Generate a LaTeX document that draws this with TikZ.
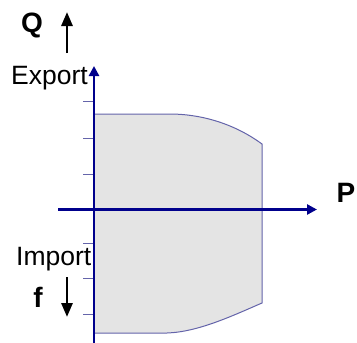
\documentclass[tikz,border=0pt]{standalone}
\usepackage{fontspec}
\setmainfont{Liberation Sans}
\usetikzlibrary{arrows.meta}
\definecolor{axisblue}{RGB}{0,0,140}
\definecolor{edgeblue}{RGB}{100,100,170}
\definecolor{regiongray}{RGB}{228,228,228}
\tikzset{
  axis/.style={draw=axisblue, line width=2.8pt, -{Triangle[length=10pt,width=10pt]}},
  tickmark/.style={draw=edgeblue, line width=1pt},
  dirarrow/.style={draw=black, line width=2.8pt, -{Triangle[length=14pt,width=11pt]}},
  lbl/.style={inner sep=0pt, font=\fontsize{26.5}{29}\selectfont},
  bigl/.style={inner sep=0pt, font=\fontsize{28}{32}\selectfont\bfseries}
}
\begin{document}
\begin{tikzpicture}[x=1pt,y=-1pt]
\useasboundingbox (0,0) rectangle (357,343);
% region
\path[fill=regiongray, draw=edgeblue, line width=1pt]
  (94,114) -- (170,114) .. controls (198,114) and (232,122) .. (262,144)
  -- (262,303) .. controls (232,316) and (198,332) .. (167,333) -- (94,333) -- cycle;
% ticks
\foreach \ty in {101,138,174,243,278,314} \draw[tickmark] (83,\ty) -- (94,\ty);
% axes
\coordinate (vbot) at (94,343);
\coordinate (vtop) at (94,66);
\coordinate (hleft) at (58,209.5);
\coordinate (hright) at (317,209.5);
\draw[axis] (vbot) -- (vtop);
\draw[axis] (hleft) -- (hright);
% labels
\node[bigl] (Q) at (32,25) {Q};
\node[bigl] (P) at (346,193) {P};
\node[bigl] (f) at (38,297) {f};
\node[lbl, anchor=base west] (exp) at (11,84) {Export};
\node[lbl, anchor=base west] (imp) at (16,265) {Import};
% direction arrows
\coordinate (ua) at (67,53);
\coordinate (ub) at (67,12);
\coordinate (da) at (67,277);
\coordinate (db) at (67,317);
\draw[dirarrow] (ua) -- (ub);
\draw[dirarrow] (da) -- (db);
\end{tikzpicture}
\end{document}
